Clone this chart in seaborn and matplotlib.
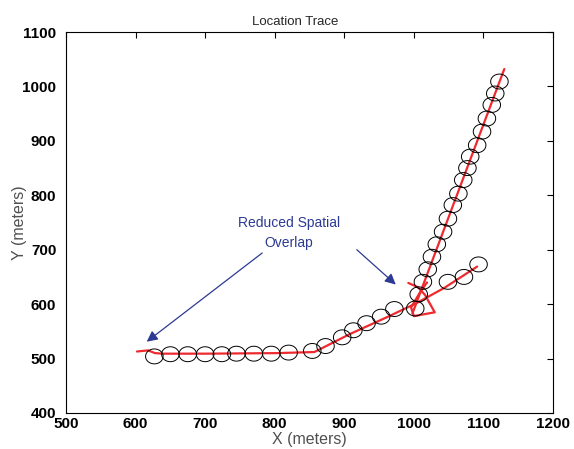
import numpy as np
import matplotlib
matplotlib.use("Agg")
import matplotlib.pyplot as plt
from matplotlib.path import Path
import seaborn as sns

# measured positions (circles) for the two walkers
trace_a_x = [627, 650, 675, 700, 724, 745, 770, 795, 820, 854, 873, 897, 913, 932,
             953, 972, 1002, 1049, 1072, 1093]
trace_a_y = [504, 508, 508, 508, 508, 509, 509, 509, 511, 514, 523, 539, 552, 565,
             577, 591, 592, 641, 650, 673]
trace_b_x = [1007, 1013, 1020, 1026, 1033, 1042, 1049, 1056, 1064, 1071, 1077, 1081,
             1091, 1098, 1105, 1112, 1117, 1123]
trace_b_y = [618, 641, 664, 687, 710, 733, 757, 782, 803, 828, 850, 871,
             892, 917, 941, 966, 987, 1009]

# estimated tracks (red)
est_a_x = [602, 618, 628, 640, 701, 802, 857, 908, 963, 1004, 1044, 1091]
est_a_y = [513, 515, 510, 509, 509, 510, 512, 545, 577, 602, 630, 669]
loop_x = [992, 1006, 1016, 1030, 1000, 996, 1009, 1019]
loop_y = [639, 631, 617, 585, 578, 594, 622, 640]
est_b_x = [998, 1130]
est_b_y = [583, 1032]

note_text = "Reduced Spatial\nOverlap"
note_xy = (820, 731)
arrow_tails = [(782, 694), (918, 700)]
arrow_tips = [(616, 531), (974, 636)]

sns.set_style("white")
plt.rcParams["font.family"] = ["Liberation Sans", "DejaVu Sans"]

fig = plt.figure(figsize=(5.74, 4.49), dpi=100)
ax = fig.add_axes([66 / 574, 36 / 449, 487 / 574, 381 / 449])

t = np.linspace(0, 2 * np.pi, 41)
ellipse = Path(np.column_stack([np.cos(t), 0.85 * np.sin(t)]))

red = "#ee2a2f"
sns.lineplot(x=est_a_x, y=est_a_y, sort=False, estimator=None, color=red, lw=1.6, ax=ax)
sns.lineplot(x=loop_x, y=loop_y, sort=False, estimator=None, color=red, lw=1.6, ax=ax)
sns.lineplot(x=est_b_x, y=est_b_y, sort=False, estimator=None, color=red, lw=1.6, ax=ax)

for xs, ys in [(trace_a_x, trace_a_y), (trace_b_x, trace_b_y)]:
    sns.scatterplot(x=xs, y=ys, marker=ellipse, s=160, facecolors="none",
                    edgecolors="black", linewidths=0.7, ax=ax, zorder=3)

blue = "#2d3a94"
ax.text(*note_xy, note_text, color=blue, fontsize=10, ha="center", va="center",
        linespacing=1.5)
for tail, tip in zip(arrow_tails, arrow_tips):
    ax.annotate("", xy=tip, xytext=tail,
                arrowprops=dict(arrowstyle="-|>", color=blue, lw=0.9,
                                mutation_scale=16, shrinkA=0, shrinkB=0))

ax.set_xlim(500, 1200)
ax.set_ylim(400, 1100)
ax.set_xticks(range(500, 1201, 100))
ax.set_yticks(range(400, 1101, 100))
ax.tick_params(direction="in", top=True, right=True, length=4, width=0.8,
               labelsize=11, colors="black")
ax.tick_params(axis="y", pad=7)
ax.tick_params(axis="x", pad=3)
for lab in ax.get_xticklabels() + ax.get_yticklabels():
    lab.set_fontweight("bold")
for sp in ax.spines.values():
    sp.set_color("black")
    sp.set_linewidth(0.8)

ax.set_title("Location Trace", fontsize=9.5, pad=5, x=0.47)
ax.set_xlabel("X (meters)", fontsize=11.5, color="#505050")
ax.set_ylabel("Y (meters)", fontsize=11.5, color="#505050")
ax.xaxis.set_label_coords(0.5, -0.05)
ax.yaxis.set_label_coords(-0.08, 0.5)

fig.savefig("out.png", dpi=100)
